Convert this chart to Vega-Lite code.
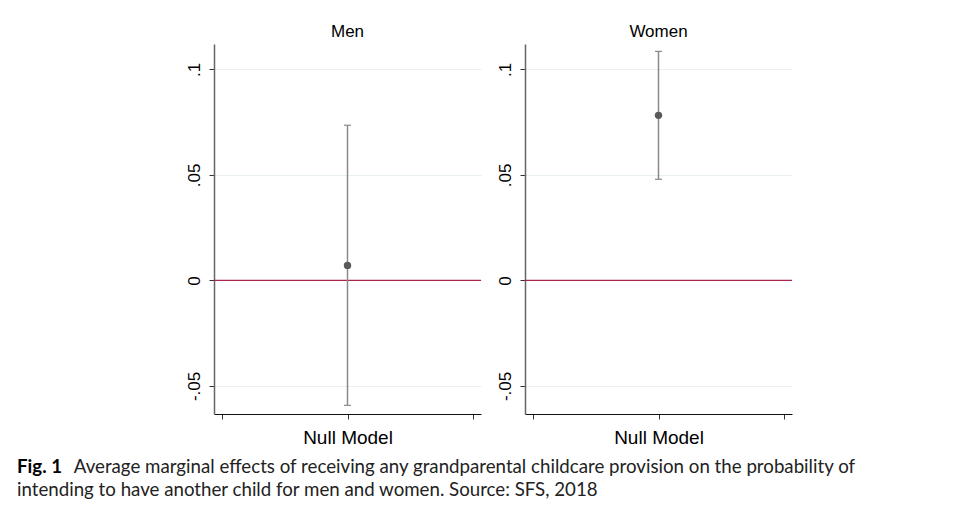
{
  "$schema": "https://vega.github.io/schema/vega-lite/v6.json",
  "padding": {"left": 17, "top": 23, "right": 5, "bottom": 5},
  "background": "white",
  "data": {"values": [
    {"sex": "Men", "x": 1, "est": 0.0071, "lo": -0.0592, "hi": 0.0735},
    {"sex": "Women", "x": 1, "est": 0.0782, "lo": 0.0479, "hi": 0.1085}
  ]},
  "title": {
    "text": "Fig. 1",
    "subtitle": ["\u200b\u00a0\u00a0\u00a0\u00a0\u00a0\u00a0\u00a0\u00a0\u00a0\u00a0\u00a0\u00a0Average marginal effects of receiving any grandparental childcare provision on the probability of", "intending to have another child for men and women.  Source: SFS, 2018"],
    "orient": "bottom",
    "anchor": "start",
    "dx": -168,
    "offset": 11,
    "font": "Lato",
    "fontSize": 18.7,
    "fontWeight": "bold",
    "color": "black",
    "subtitleFont": "Lato",
    "subtitleFontSize": 18.7,
    "subtitleFontWeight": "normal",
    "subtitleColor": "#222",
    "subtitlePadding": -18.7,
    "subtitleLineHeight": 23
  },
  "spacing": 14,
  "config": {
    "view": {"stroke": null},
    "title": {"font": "Liberation Sans", "fontSize": 17, "fontWeight": "normal", "color": "black", "offset": 3},
    "axisY": {
      "labelAngle": -90,
      "labelFont": "Liberation Sans",
      "labelFontSize": 17,
      "labelColor": "black",
      "labelPadding": 6,
      "tickSize": 5,
      "tickColor": "#333",
      "domainColor": "#666",
      "domainWidth": 1.5,
      "grid": true,
      "gridColor": "#e8f0f0",
      "title": null
    },
    "axisX": {
      "labelFont": "Liberation Sans",
      "labelFontSize": 19,
      "labelColor": "black",
      "labelPadding": 9,
      "tickSize": 5,
      "tickColor": "#333",
      "domainColor": "#111",
      "domainWidth": 1.2,
      "grid": false,
      "title": null
    }
  },
  "hconcat": [
    {
      "title": "Men",
      "width": 267,
      "height": 370,
      "transform": [{"filter": "datum.sex === 'Men'"}],
      "encoding": {
        "x": {"field": "x", "type": "quantitative", "scale": {"domain": [-0.064, 2.064], "nice": false, "zero": false}, "axis": {"values": [0, 1, 2], "labelExpr": "datum.value == 1 ? 'Null Model' : ''", "title": null}}
      },
      "layer": [
        {"mark": {"type": "rule", "color": "#a82448", "strokeWidth": 1.2}, "encoding": {"x": null, "y": {"datum": 0, "type": "quantitative", "scale": {"domain": [-0.0633, 0.112], "nice": false, "zero": false}, "axis": {"values": [-0.05, 0, 0.05, 0.1], "labelExpr": "datum.value == 0.1 ? '.1' : datum.value == 0.05 ? '.05' : datum.value == 0 ? '0' : '-.05'", "title": null}}}},
        {"mark": {"type": "rule", "color": "#8a8a8a", "strokeWidth": 1.5}, "encoding": {"y": {"field": "lo", "type": "quantitative"}, "y2": {"field": "hi"}}},
        {"mark": {"type": "tick", "orient": "horizontal", "size": 7, "thickness": 1.2, "color": "#8a8a8a", "opacity": 1}, "encoding": {"y": {"field": "lo", "type": "quantitative"}}},
        {"mark": {"type": "tick", "orient": "horizontal", "size": 7, "thickness": 1.2, "color": "#8a8a8a", "opacity": 1}, "encoding": {"y": {"field": "hi", "type": "quantitative"}}},
        {"mark": {"type": "point", "filled": true, "size": 55, "color": "#5a5a5a", "opacity": 1}, "encoding": {"y": {"field": "est", "type": "quantitative"}}}
      ]
    },
    {
      "title": "Women",
      "width": 267,
      "height": 370,
      "transform": [{"filter": "datum.sex === 'Women'"}],
      "encoding": {
        "x": {"field": "x", "type": "quantitative", "scale": {"domain": [-0.064, 2.064], "nice": false, "zero": false}, "axis": {"values": [0, 1, 2], "labelExpr": "datum.value == 1 ? 'Null Model' : ''", "title": null}}
      },
      "layer": [
        {"mark": {"type": "rule", "color": "#a82448", "strokeWidth": 1.2}, "encoding": {"x": null, "y": {"datum": 0, "type": "quantitative", "scale": {"domain": [-0.0633, 0.112], "nice": false, "zero": false}, "axis": {"values": [-0.05, 0, 0.05, 0.1], "labelExpr": "datum.value == 0.1 ? '.1' : datum.value == 0.05 ? '.05' : datum.value == 0 ? '0' : '-.05'", "title": null}}}},
        {"mark": {"type": "rule", "color": "#8a8a8a", "strokeWidth": 1.5}, "encoding": {"y": {"field": "lo", "type": "quantitative"}, "y2": {"field": "hi"}}},
        {"mark": {"type": "tick", "orient": "horizontal", "size": 7, "thickness": 1.2, "color": "#8a8a8a", "opacity": 1}, "encoding": {"y": {"field": "lo", "type": "quantitative"}}},
        {"mark": {"type": "tick", "orient": "horizontal", "size": 7, "thickness": 1.2, "color": "#8a8a8a", "opacity": 1}, "encoding": {"y": {"field": "hi", "type": "quantitative"}}},
        {"mark": {"type": "point", "filled": true, "size": 55, "color": "#5a5a5a", "opacity": 1}, "encoding": {"y": {"field": "est", "type": "quantitative"}}}
      ]
    }
  ]
}
